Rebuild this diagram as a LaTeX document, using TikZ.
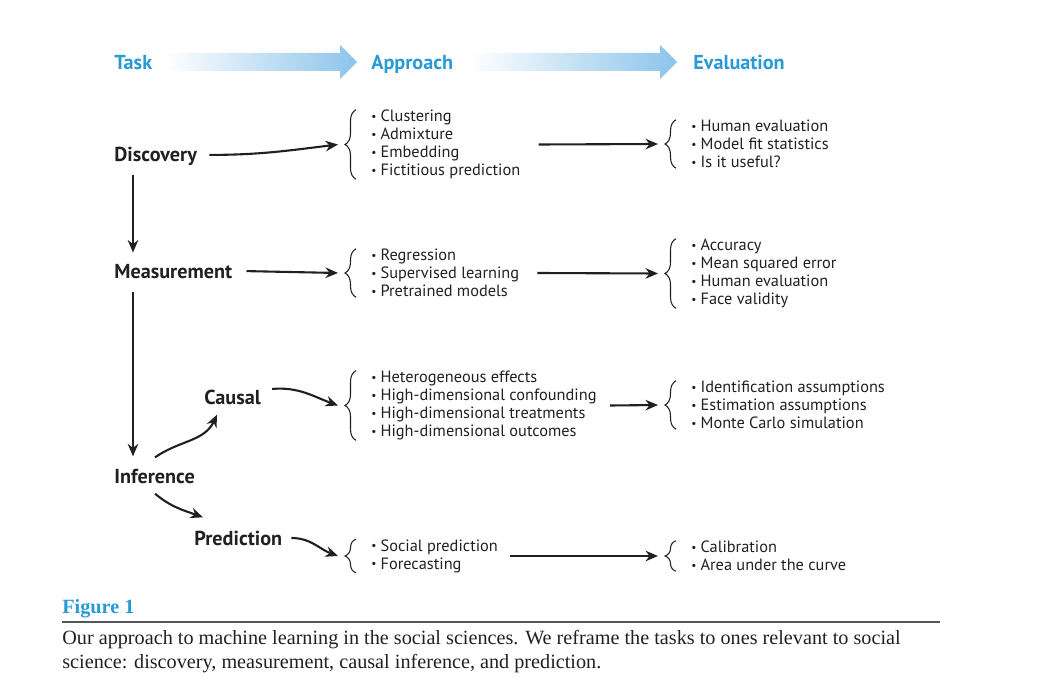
\documentclass[tikz,border=0pt]{standalone}
\usepackage{fontspec}
\usepackage{graphicx}
\setmainfont{Liberation Serif}
\setsansfont{PT Sans}
\usetikzlibrary{arrows.meta,decorations.pathreplacing,calc}

\definecolor{hdrblue}{HTML}{2A9AD6}
\definecolor{arrblue}{HTML}{8CC4EA}
\definecolor{ink}{HTML}{231F20}
\definecolor{rulegray}{HTML}{555555}

\newcommand{\bul}{\raisebox{0.15ex}{\scalebox{0.7}{\textbullet}}\hspace{0.25em}}

\begin{document}
\begin{tikzpicture}[
    x=0.02cm, y=-0.02cm,
    task/.style={font=\sffamily\bfseries\fontsize{11.5}{13}\selectfont, text=ink, anchor=mid west, inner sep=0pt},
    hdr/.style={task, text=hdrblue},
    list/.style={font=\sffamily\fontsize{9.3}{10.24}\selectfont, text=ink, align=left, anchor=west, inner sep=0pt},
    brc/.style={decorate, decoration={brace, amplitude=0.22cm}, line width=0.6pt, ink},
    every path/.style={ink},
    >={Stealth[length=0.25cm, width=0.21cm]},
    arr/.style={->, line width=0.042cm}
]
\useasboundingbox (0,0) rectangle (1057,692);

% --- header ---
\node[hdr] (tsk) at (114,65) {Task};
\node[hdr] (app) at (371,65) {Approach};
\node[hdr] (eva) at (693,65) {Evaluation};

\shade[left color=white, right color=arrblue, draw=none]
  (165,53) -- (340,53) -- (340,45) -- (357,62) -- (340,79) -- (340,71) -- (165,71) -- cycle;
\shade[left color=white, right color=arrblue, draw=none]
  (470,53) -- (660,53) -- (660,45) -- (677,62) -- (660,79) -- (660,71) -- (470,71) -- cycle;

% --- tasks ---
\node[task] (dis) at (114,157) {Discovery};
\node[task] (mea) at (114,274) {Measurement};
\node[task] (inf) at (114,479) {Inference};
\node[task] (cau) at (204,400) {Causal};
\node[task] (pre) at (194,541) {Prediction};

% --- approaches ---
\node[list] (disApp) at (371,144.5) {\bul Clustering\\ \bul Admixture\\ \bul Embedding\\ \bul Fictitious prediction};
\node[list] (meaApp) at (371,273) {\bul Regression\\ \bul Supervised learning\\ \bul Pretrained models};
\node[list] (cauApp) at (371,405.5) {\bul Heterogeneous effects\\ \bul High-dimensional confounding\\ \bul High-dimensional treatments\\ \bul High-dimensional outcomes};
\node[list] (preApp) at (371,556) {\bul Social prediction\\ \bul Forecasting};

% --- evaluations ---
\node[list] (disEva) at (691,144) {\bul Human evaluation\\ \bul Model fit statistics\\ \bul Is it useful?};
\node[list] (meaEva) at (691,273.5) {\bul Accuracy\\ \bul Mean squared error\\ \bul Human evaluation\\ \bul Face validity};
\node[list] (cauEva) at (691,405) {\bul Identification assumptions\\ \bul Estimation assumptions\\ \bul Monte Carlo simulation};
\node[list] (preEva) at (691,556) {\bul Calibration\\ \bul Area under the curve};

% braces
\foreach \l in {disApp,meaApp,cauApp,preApp,disEva,meaEva,cauEva,preEva}
  \draw[brc] ([xshift=-0.3cm]\l.south west) -- ([xshift=-0.3cm]\l.north west);

% --- connectors ---
\draw[arr, shorten <=0.18cm, shorten >=0.22cm] ([xshift=0.38cm]dis.south west) -- ([xshift=0.38cm]mea.north west);
\draw[arr, shorten <=0.26cm, shorten >=0.24cm] ([xshift=0.38cm]mea.south west) -- ([xshift=0.38cm]inf.north west);
\draw[arr] ($(inf.north west)+(41,-11)$) to[out=35, in=245] ($(cau.south west)+(13,10)$);
\draw[arr] ($(inf.south west)+(41,10)$) to[out=-40, in=160] ($(pre.north west)+(9,-13)$);

\draw[arr] ($(dis.east)+(12,-1)$) to[out=0, in=187] ([xshift=-0.66cm]disApp.west);
\draw[arr] ($(mea.east)+(14,0)$) -- ([xshift=-0.66cm]meaApp.west);
\draw[arr] ($(cau.east)+(11,-8)$) to[out=5, in=160] ([xshift=-0.66cm]cauApp.west);
\draw[arr] ($(pre.east)+(9,0)$) to[out=0, in=160] ([xshift=-0.66cm]preApp.west);

\draw[arr] ([xshift=0.36cm]disApp.east) -- ([xshift=-0.66cm]disEva.west);
\draw[arr] ([xshift=0.36cm]meaApp.east) -- ([xshift=-0.66cm]meaEva.west);
\draw[arr] ([xshift=0.26cm]cauApp.east) -- ([xshift=-0.66cm]cauEva.west);
\draw[arr] ([xshift=0.24cm]preApp.east) -- ([xshift=-0.66cm]preEva.west);

% --- caption ---
\node[anchor=base west, inner sep=0pt, text=hdrblue, font=\bfseries\fontsize{11.5}{13}\selectfont] (fig) at (62,613) {Figure 1};
\draw[rulegray, line width=0.03cm] (62,622) -- (940,622);
\node[anchor=north west, align=left, inner sep=0pt, text=ink, font=\fontsize{11.5}{13.66}\selectfont] (cap) at (62,630)
  {Our approach to machine learning in the social sciences. We reframe the tasks to ones relevant to social\\
   science: discovery, measurement, causal inference, and prediction.};
\end{tikzpicture}
\end{document}
